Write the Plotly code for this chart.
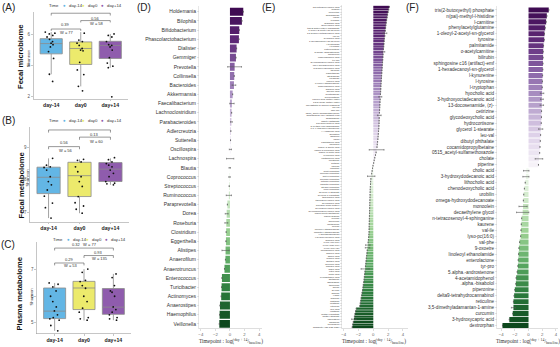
import plotly.graph_objects as go

# ---------------- data ----------------
days = ["day-14", "day0", "day+14"]
box_colors = ["#63B6E5", "#ECEA6C", "#8F5CAD"]

# panel A: fecal microbiome Shannon
A_q1 = [4.75, 4.06, 4.45]
A_med = [5.42, 5.10, 5.30]
A_q3 = [5.74, 5.53, 5.57]
A_lo = [3.42, 2.63, 3.85]
A_hi = [6.17, 6.17, 6.05]
A_pts = [
    [6.17, 6.10, 6.05, 5.95, 5.85, 5.70, 5.55, 5.45, 5.35, 5.20, 4.90, 4.45, 3.42, 2.95],
    [6.10, 5.65, 5.55, 5.45, 5.30, 5.10, 5.00, 4.95, 4.20, 3.70, 3.40, 2.63, 2.34],
    [6.05, 5.95, 5.85, 5.55, 5.35, 5.30, 5.20, 5.00, 4.50, 4.15, 3.95, 3.85, 1.95],
]
# panel B: fecal metabolome Shannon
B_q1 = [7.58, 7.49, 7.95]
B_med = [8.08, 8.13, 8.33]
B_q3 = [8.39, 8.54, 8.53]
B_lo = [6.83, 6.98, 7.85]
B_hi = [8.66, 8.63, 8.66]
B_pts = [
    [8.66, 8.45, 8.40, 8.38, 8.30, 8.10, 7.95, 7.85, 7.69, 7.50, 7.29, 7.15, 6.83],
    [8.63, 8.60, 8.55, 8.40, 8.25, 8.10, 7.95, 7.80, 7.49, 7.30, 7.20, 7.10, 6.98],
    [8.68, 8.62, 8.55, 8.50, 8.45, 8.40, 8.30, 8.20, 8.10, 7.95, 7.90, 7.88, 7.85],
]
# panel C: plasma metabolome Shannon
C_q1 = [5.16, 5.50, 5.32]
C_med = [5.44, 6.31, 5.59]
C_q3 = [6.31, 6.56, 6.29]
C_lo = [4.70, 5.09, 5.10]
C_hi = [6.50, 7.02, 6.84]
C_pts = [
    [6.50, 6.45, 6.35, 6.20, 6.00, 5.80, 5.60, 5.45, 5.30, 5.20, 5.15, 5.10, 4.90, 4.70],
    [7.02, 6.90, 6.60, 6.55, 6.40, 6.30, 6.00, 5.80, 5.55, 5.40, 5.20, 5.15, 5.10],
    [6.84, 6.70, 6.40, 6.20, 6.15, 6.00, 5.60, 5.50, 5.40, 5.30, 5.20, 5.15, 5.10],
]
# significance labels: (p, W) for pairs (day-14,day0), (day0,day+14), (day-14,day+14)
A_sig = [("0.39", "W = 77"), ("0.56", "W = 58"), ("0.56", "W = 88")]
B_sig = [("0.56", "W = 56"), ("0.13", "W = 60"), ("0.006", "W = 12")]
C_sig = [("0.29", "W = 53"), ("0.93", "W = 135"), ("0.32", "W = 77")]

# panel D: genera
D_names = ["Holdemania", "Bilophila", "Bifidobacterium", "Phascolarctobacterium", "Dialister",
           "Gemmiger", "Prevotella", "Collinsella", "Bacteroides", "Akkermansia",
           "Faecalibacterium", "Lachnoclostridium", "Parabacteroides", "Adlercreutzia",
           "Sutterella", "Oscillospira", "Lachnospira", "Blautia", "Coprococcus",
           "Streptococcus", "Ruminococcus", "Paraprevotella", "Dorea", "Roseburia",
           "Clostridium", "Eggerthella", "Alistipes", "Anaerofilum", "Anaerotruncus",
           "Enterococcus", "Turicibacter", "Actinomyces", "Anaerostipes", "Haemophilus",
           "Veillonella"]
D_lfc = [1.83, 1.64, 1.28, 1.23, 0.91, 0.82, 0.64, 0.59, 0.55, 0.37, 0.27, 0.23, 0.20, 0.12,
         0.08, 0.06, 0.03, -0.03, -0.06, -0.10, -0.15, -0.35, -0.45, -0.50, -0.52, -0.55,
         -0.60, -0.62, -0.75, -1.10, -1.15, -1.20, -1.37, -1.42, -1.46]
D_err = [None, None, None, None, None, None, 0.95, None, 0.25, None, 0.30, None, 0.12, None,
         None, 0.15, 0.50, 0.10, 0.10, None, 0.36, None, 0.20, 0.20, None, None, 0.50, None,
         None, None, None, None, None, None, None]

# panel E: fecal metabolites
E_names = [
    "12-ketodeoxycholic acid", "urobilin", "fluoxetine", "anandamide", "valine", "tyrosine",
    "arachidic acid", "deoxycholic acid", "tris(2-butoxyethyl) phosphate",
    "1-oleoyl-2-acetyl-sn-glycerol", "13-hydroxyoctadecanoic acid", "leu-ile", "hyocholic acid",
    "1-hexadecanoyl-sn-glycerol", "l-tryptophan", "l-tyrosine", "enterolactone",
    "5.alpha.-androstenone", "monoolein", "undecanedioic acid", "tyr-pro",
    "glycoursodeoxycholic acid", "cis-9-hexadecenoic acid", "3-hydroxydecanoic acid", "thymine",
    "palmitamide", "stearamide", "oleamide", "linoleic acid", "n-oleoyl ethanolamine",
    "dodecanedioic acid", "sebacic acid", "azelaic acid", "nicotinamide", "hypoxanthine",
    "linoleic acid methyl ester", "13(s)-hode methyl ester", "mevastatin in source fragment",
    "leu-val", "phe-pro", "0516_acetyl-sulfamethoxazole", "sphingosine c16 (artifact)-emf",
    "sphinganine", "dibutyl phthalate", "3-hydroxybutyric acid", "d-erythro-c16-sphingosine",
    "6,7,4'-trihydroxyisoflavone", "(+)-abscisic acid", "genistein", "daidzein", "equol",
    "pantothenic acid", "riboflavin", "indole-3-acetic acid", "indole-3-propionic acid",
    "indole-3-lactic acid", "kynurenic acid", "xanthurenic acid", "creatinine", "betaine",
    "choline", "carnitine", "acetylcarnitine", "propionylcarnitine", "butyrylcarnitine",
    "hexanoylcarnitine", "octanoylcarnitine", "palmitoylcarnitine", "stearoylcarnitine",
    "oleoylcarnitine", "glycerol 1-stearate", "glycerol 1-palmitate", "taurocholic acid",
    "taurodeoxycholic acid", "glycocholic acid", "bilirubin (from matrix)",
    "glycodeoxycholic acid", "glycochenodeoxycholic acid", "phenylacetylglutamine",
    "phenylalanine", "leucine", "isoleucine", "methionine", "proline",
    "linoleoyl ethanolamide", "palmitoyl ethanolamide", "4-acetamidophenol",
    "4-hydroxybenzoic acid", "hippuric acid", "cyclo-(leu-pro)", "cyclo-(phe-pro)",
    "cyclo-(pro-val)", "nonanedioic acid", "suberic acid", "adipic acid", "pimelic acid",
    "glutaric acid", "succinic acid", "fumaric acid", "malic acid", "citric acid",
    "lactic acid", "pyroglutamic acid", "glutamine", "asparagine", "threonine", "serine",
    "glycine", "alanine", "lysine", "arginine", "histidine", "ornithine", "citrulline",
    "uric acid", "xanthine", "methyl palmitate", "methyl stearate", "cholesterol",
    "squalene", "tocopherol", "diisobutyl (3R,13R,15R)",
]
E_lfc = [2.16, 2.08, 2.00, 1.93, 1.87, 1.80, 1.75, 1.70, 1.66, 1.62,
         1.58, 1.55, 1.50, 1.47, 1.44, 1.41, 1.38, 1.35, 1.32, 1.30,
         1.27, 1.25, 1.22, 1.20, 1.17, 1.15, 1.12, 1.10, 1.08, 1.05,
         1.03, 1.01, 0.99, 0.97, 0.95, 0.93, 0.91, 0.89, 0.87, 0.85,
         0.83, 0.81, 0.80, 0.79, 0.78, 0.76, 0.74, 0.71, 0.68, 0.65,
         0.62, 0.58, 0.54, 0.50, 0.45, 0.38, 0.30, 0.20, 0.12, 0.05,
         -0.04, -0.10, -0.16, -0.22, -0.28, -0.33, -0.36, -0.38, -0.40, -0.42,
         -0.43, -0.44, -0.45, -0.46, -0.47, -0.48, -0.49, -0.50, -0.51, -0.52,
         -0.53, -0.54, -0.55, -0.56, -0.57, -0.58, -0.60, -0.63, -0.66, -0.70,
         -0.74, -0.78, -0.82, -0.86, -0.90, -0.94, -0.98, -1.02, -1.06, -1.10,
         -1.13, -1.17, -1.21, -1.25, -1.30, -1.35, -1.40, -1.46, -1.52, -1.58,
         -1.64, -1.70, -1.76, -1.82, -2.30, -2.40, -2.48, -2.55, -2.62, -2.70,
         -2.78, -2.84]
E_err = [None] * 122
for _i, _e in [(10, 0.25), (17, 0.2), (34, 0.2), (41, 0.25), (54, 1.0), (64, 0.5),
               (90, 0.3), (91, 0.3), (99, 0.55), (118, 0.3)]:
    E_err[_i] = _e

# panel F: plasma metabolites
F_names = ["tris(2-butoxyethyl) phosphate", "n(pai)-methyl-l-histidine", "l-carnitine",
           "phenylacetylglutamine", "1-oleoyl-2-acetyl-sn-glycerol", "tyrosine", "palmitamide",
           "o-acetylcarnitine", "bilirubin", "sphingosine c16 (artifact)-emf",
           "1-hexadecanoyl-sn-glycerol", "l-kynurenine", "l-tyrosine", "l-tryptophan",
           "hyocholic acid", "3-hydroxyoctadecanoic acid", "13-docosenamide, (z)-", "cetirizine",
           "glycodeoxycholic acid", "hydrocortisone", "glycerol 1-stearate", "leu-val",
           "dibutyl phthalate", "cocamidopropylbetaine", "0515_acetyl-sulfamethoxazole",
           "cholate", "piperine", "cholic acid", "3-hydroxydodecanoic acid", "lithocholic acid",
           "chenodeoxycholic acid", "urobilin", "omega-hydroxydodecanoate", "monoolein",
           "decaethylene glycol", "n-tetracosenoyl-4-sphinganine", "kaurene", "val-ile",
           "lyso-pc(16:0)", "val-phe", "9-oxoetre", "linoleoyl ethanolamide", "enterolactone",
           "tyr-pro", "5.alpha.-androstenone", "4-acetamidophenol", ".alpha.-bisabolol",
           "piperonine", "delta9-tetrahydrocannabinol", "reticuline",
           "3,5-dimethyladamantan-1-amine", "curcumin", "3-hydroxycapric acid", "dextrorphan"]
F_lfc = [2.95, 2.67, 2.57, 2.43, 2.33, 2.29, 2.19, 2.14, 2.12, 2.10, 2.08, 2.05, 2.03, 2.00,
         1.98, 1.95, 1.94, 1.90, 1.89, 1.86, 1.78, 1.76, 1.72, 1.67, 1.62, 1.52, 1.45,
         -0.33, -0.38, -0.48, -0.60, -0.70, -0.75, -0.80, -0.85, -1.00, -1.05, -1.10, -1.15,
         -1.30, -1.40, -1.45, -1.50, -1.55, -1.65, -1.80, -1.85, -2.00, -2.10, -2.20, -2.20,
         -2.30, -2.80, -3.80]
F_err = [None] * 54
for _i, _e in [(14, 0.25), (15, 0.2), (16, 0.25), (20, 0.3), (25, 0.55), (27, 0.4),
               (28, 0.45), (33, 0.6), (34, 0.9), (50, 0.3)]:
    F_err[_i] = _e

# ---------------- helpers ----------------
W, H = 560, 347
FONT = "Liberation Sans, Arial, sans-serif"


def dx(a, b):
    return [a / W, b / W]


def dy(top, bottom):
    return [1 - bottom / H, 1 - top / H]


def hex2rgb(h):
    h = h.lstrip("#")
    return [int(h[i:i + 2], 16) for i in (0, 2, 4)]


def lerp(stops, t):
    n = len(stops) - 1
    p = max(0.0, min(1.0, t)) * n
    i = min(int(p), n - 1)
    f = p - i
    a, b = hex2rgb(stops[i]), hex2rgb(stops[i + 1])
    return "rgb(%d,%d,%d)" % tuple(round(a[k] + (b[k] - a[k]) * f) for k in range(3))


PURPLE = ["#3f0b52", "#5f2a78", "#8a65a8", "#b49dca", "#ddd0e8", "#f6f2f8"]
GREEN = ["#f1f8ef", "#cde8c6", "#9bd193", "#5aa962", "#2a7a3b", "#0d481d"]


def rank_colors(vals):
    pos = [v for v in vals if v > 0]
    neg = [v for v in vals if v <= 0]
    out, ip, ineg = [], 0, 0
    for v in vals:
        if v > 0:
            out.append(lerp(PURPLE, ip / max(1, len(pos) - 1)))
            ip += 1
        else:
            out.append(lerp(GREEN, ineg / max(1, len(neg) - 1)))
            ineg += 1
    return out


fig = go.Figure()

# ---------------- box panels ----------------
box_panels = [
    ("", A_q1, A_med, A_q3, A_lo, A_hi, A_pts),
    ("2", B_q1, B_med, B_q3, B_lo, B_hi, B_pts),
    ("3", C_q1, C_med, C_q3, C_lo, C_hi, C_pts),
]
for sfx, q1, med, q3, lo, hi, pts in box_panels:
    xa, ya = "x" + sfx, "y" + sfx
    for i, d in enumerate(days):
        fig.add_trace(go.Box(
            x=[d], q1=[q1[i]], median=[med[i]], q3=[q3[i]], lowerfence=[lo[i]],
            upperfence=[hi[i]], fillcolor=box_colors[i], line=dict(color="#8c8c8c", width=0.8),
            whiskerwidth=0, width=0.75, boxpoints=False, xaxis=xa, yaxis=ya, hoverinfo="skip"))
        fig.add_trace(go.Box(
            x=[d] * len(pts[i]), y=pts[i], boxpoints="all", jitter=0.55, pointpos=0,
            fillcolor="rgba(0,0,0,0)", line=dict(width=0, color="rgba(0,0,0,0)"),
            marker=dict(color="#111111", size=1.8), width=0.75, xaxis=xa, yaxis=ya,
            hoverinfo="skip"))

# bracket geometry (data units): (tick bottom, bar) for pairs 01, 12, 02
A_br = [(6.25, 6.37), (6.80, 6.92), (7.25, 7.40)]
B_br = [(8.94, 9.02), (9.23, 9.31), (9.45, 9.53)]
C_br = [(7.16, 7.25), (7.44, 7.53), (7.72, 7.81)]
# text y positions (data units): (p_low, W_low, p_mid, W_mid, top)
A_ty = (6.65, 6.17, 7.08, 6.75, 7.66)
B_ty = (9.14, 8.90, 9.40, 9.17, 9.65)
C_ty = (7.37, 7.15, 7.64, 7.43, 7.93)

annotations = []
pairs = [(0, 1), (1, 2), (0, 2)]
for sfx, br, ty, sig in [("", A_br, A_ty, A_sig), ("2", B_br, B_ty, B_sig), ("3", C_br, C_ty, C_sig)]:
    xa, ya = "x" + sfx, "y" + sfx
    for (a, b), (ylo, yhi) in zip(pairs, br):
        fig.add_trace(go.Scatter(x=[days[a], days[a], days[b], days[b]], y=[ylo, yhi, yhi, ylo],
                                 mode="lines", line=dict(color="#333333", width=0.5),
                                 xaxis=xa, yaxis=ya, hoverinfo="skip"))
    f = dict(size=4, color="#333333", family=FONT)
    annotations += [
        dict(x=0.5, y=ty[0], xref=xa, yref=ya, text=sig[0][0], showarrow=False, font=f),
        dict(x=0.55, y=ty[1], xref=xa, yref=ya, text=sig[0][1], showarrow=False, font=f),
        dict(x=1.5, y=ty[2], xref=xa, yref=ya, text=sig[1][0], showarrow=False, font=f),
        dict(x=1.55, y=ty[3], xref=xa, yref=ya, text=sig[1][1], showarrow=False, font=f),
        dict(x=1.0, y=ty[4], xref=xa, yref=ya, text=sig[2][0] + "   " + sig[2][1],
             showarrow=False, font=f),
    ]

# ---------------- bar panels ----------------
for sfx, names, vals, errs in [("4", D_names, D_lfc, D_err), ("5", E_names, E_lfc, E_err),
                               ("6", F_names, F_lfc, F_err)]:
    fig.add_trace(go.Bar(
        x=vals, y=names, orientation="h", marker=dict(color=rank_colors(vals), line=dict(width=0)),
        error_x=dict(type="data", array=errs, color="#555555", thickness=0.6, width=0.8),
        xaxis="x" + sfx, yaxis="y" + sfx, hoverinfo="skip"))

# ---------------- axes ----------------
layout = dict(width=W, height=H, margin=dict(l=0, r=0, t=0, b=0), paper_bgcolor="white",
              plot_bgcolor="white", showlegend=False, bargap=0.14, font=dict(family=FONT))

box_geo = [("", dx(33.5, 128), dy(12, 99), [1.806, 7.48], [2, 4, 6]),
           ("2", dx(30, 129), dy(126.7, 222), [6.71, 9.63], [7, 8, 9]),
           ("3", dx(37, 131), dy(241.7, 333.5), [4.6, 8.05], [5, 6, 7])]
for sfx, xd, yd, yr, tv in box_geo:
    layout["xaxis" + sfx] = dict(
        domain=xd, anchor="y" + sfx, type="category", categoryorder="array", categoryarray=days,
        range=[-0.6, 2.6], showline=True, linecolor="#a0a0a0", linewidth=0.6, ticks="outside",
        ticklen=1.5, tickcolor="#a0a0a0", tickwidth=0.6, showgrid=False, zeroline=False,
        tickfont=dict(size=5.2, color="#222222", weight="bold"), automargin=False)
    layout["yaxis" + sfx] = dict(
        domain=yd, anchor="x" + sfx, range=yr, tickvals=tv, showline=True, linecolor="#a0a0a0",
        linewidth=0.6, ticks="outside", ticklen=2, tickcolor="#a0a0a0", tickwidth=0.6,
        showgrid=False, zeroline=False, tickfont=dict(size=4.5, color="#555555"),
        automargin=False)

bar_geo = [("4", (199, 262), dy(6.2, 328.5), [-4.25, 4.4], len(D_names), 5.0),
           ("5", (342, 408), dy(5.2, 328.5), [-4.23, 4.69], len(E_names), 2.5),
           ("6", (497, 558), dy(6.4, 328.5), [-4.6, 4.3], len(F_names), 4.6)]
for sfx, (x0, x1), yd, xr, n, fs in bar_geo:
    layout["xaxis" + sfx] = dict(
        domain=dx(x0, x1), anchor="y" + sfx, range=xr, tickvals=[-4, -2, 0, 2, 4],
        showline=True, linecolor="#bdbdbd", linewidth=0.5, ticks="outside", ticklen=1.5,
        tickcolor="#bdbdbd", tickwidth=0.5, showgrid=False, zeroline=False,
        tickfont=dict(size=4.3, color="#666666"), automargin=False)
    layout["yaxis" + sfx] = dict(
        domain=yd, anchor="x" + sfx, type="category",
        range=[n - 1 + 0.5, -0.6], dtick=1,
        showline=True, linecolor="#cfcfcf", linewidth=0.5, ticks="outside", ticklen=1.5,
        tickcolor="#bdbdbd", tickwidth=0.4, showgrid=False, zeroline=False,
        tickfont=dict(size=fs, color="#333333"), automargin=False)

# ---------------- text annotations ----------------
def pa(x, y, text, size, color="#111111", angle=0, weight="normal", xanchor="center",
       family=FONT):
    return dict(x=x / W, y=1 - y / H, xref="paper", yref="paper", text=text, showarrow=False,
                textangle=angle, xanchor=xanchor, yanchor="middle",
                font=dict(size=size, color=color, weight=weight, family=family))


for lab, x, y in [("(A)", 8, 7), ("(B)", 8, 120), ("(C)", 8, 244), ("(D)", 144, 7),
                  ("(E)", 268, 7), ("(F)", 412, 7)]:
    annotations.append(pa(x, y, lab, 10, "#222222"))

for x, y in [(80, 5), (80, 120), (84, 239)]:
    annotations.append(pa(x - 26, y, "Time", 4.3, "#333333"))
    for k, (d, c) in enumerate(zip(days, box_colors)):
        xx = x - 16 + k * 19
        annotations.append(pa(xx, y, "●", 4.5, c))
        annotations.append(pa(xx + 2.5, y, d, 4.3, "#333333", xanchor="left"))

for title, x, y, sx, sy in [("Fecal microbiome", 20, 57, 28.3, 58),
                            ("Fecal metabolome", 20.5, 186, 26.5, 178),
                            ("Plasma metabolome", 18.5, 294, 30.5, 297)]:
    annotations.append(pa(x, y, title, 7.6, "#111111", angle=-90, weight="bold"))
    annotations.append(pa(sx, sy, "Shannon", 4.3, "#333333", angle=-90))

xt = "Timepoint : log(<sup>day + 14</sup>/<sub>baseline</sub>)"
for x in [231, 374, 528]:
    annotations.append(pa(x, 341, xt, 5.4, "#333333", family="Liberation Serif, serif"))

layout["annotations"] = annotations
fig.update_layout(**layout)
fig.write_html("out.html",
               config={"displayModeBar": False, "staticPlot": True},
               post_script="document.body.style.margin='0px';"
                           "document.body.style.overflow='hidden';")
